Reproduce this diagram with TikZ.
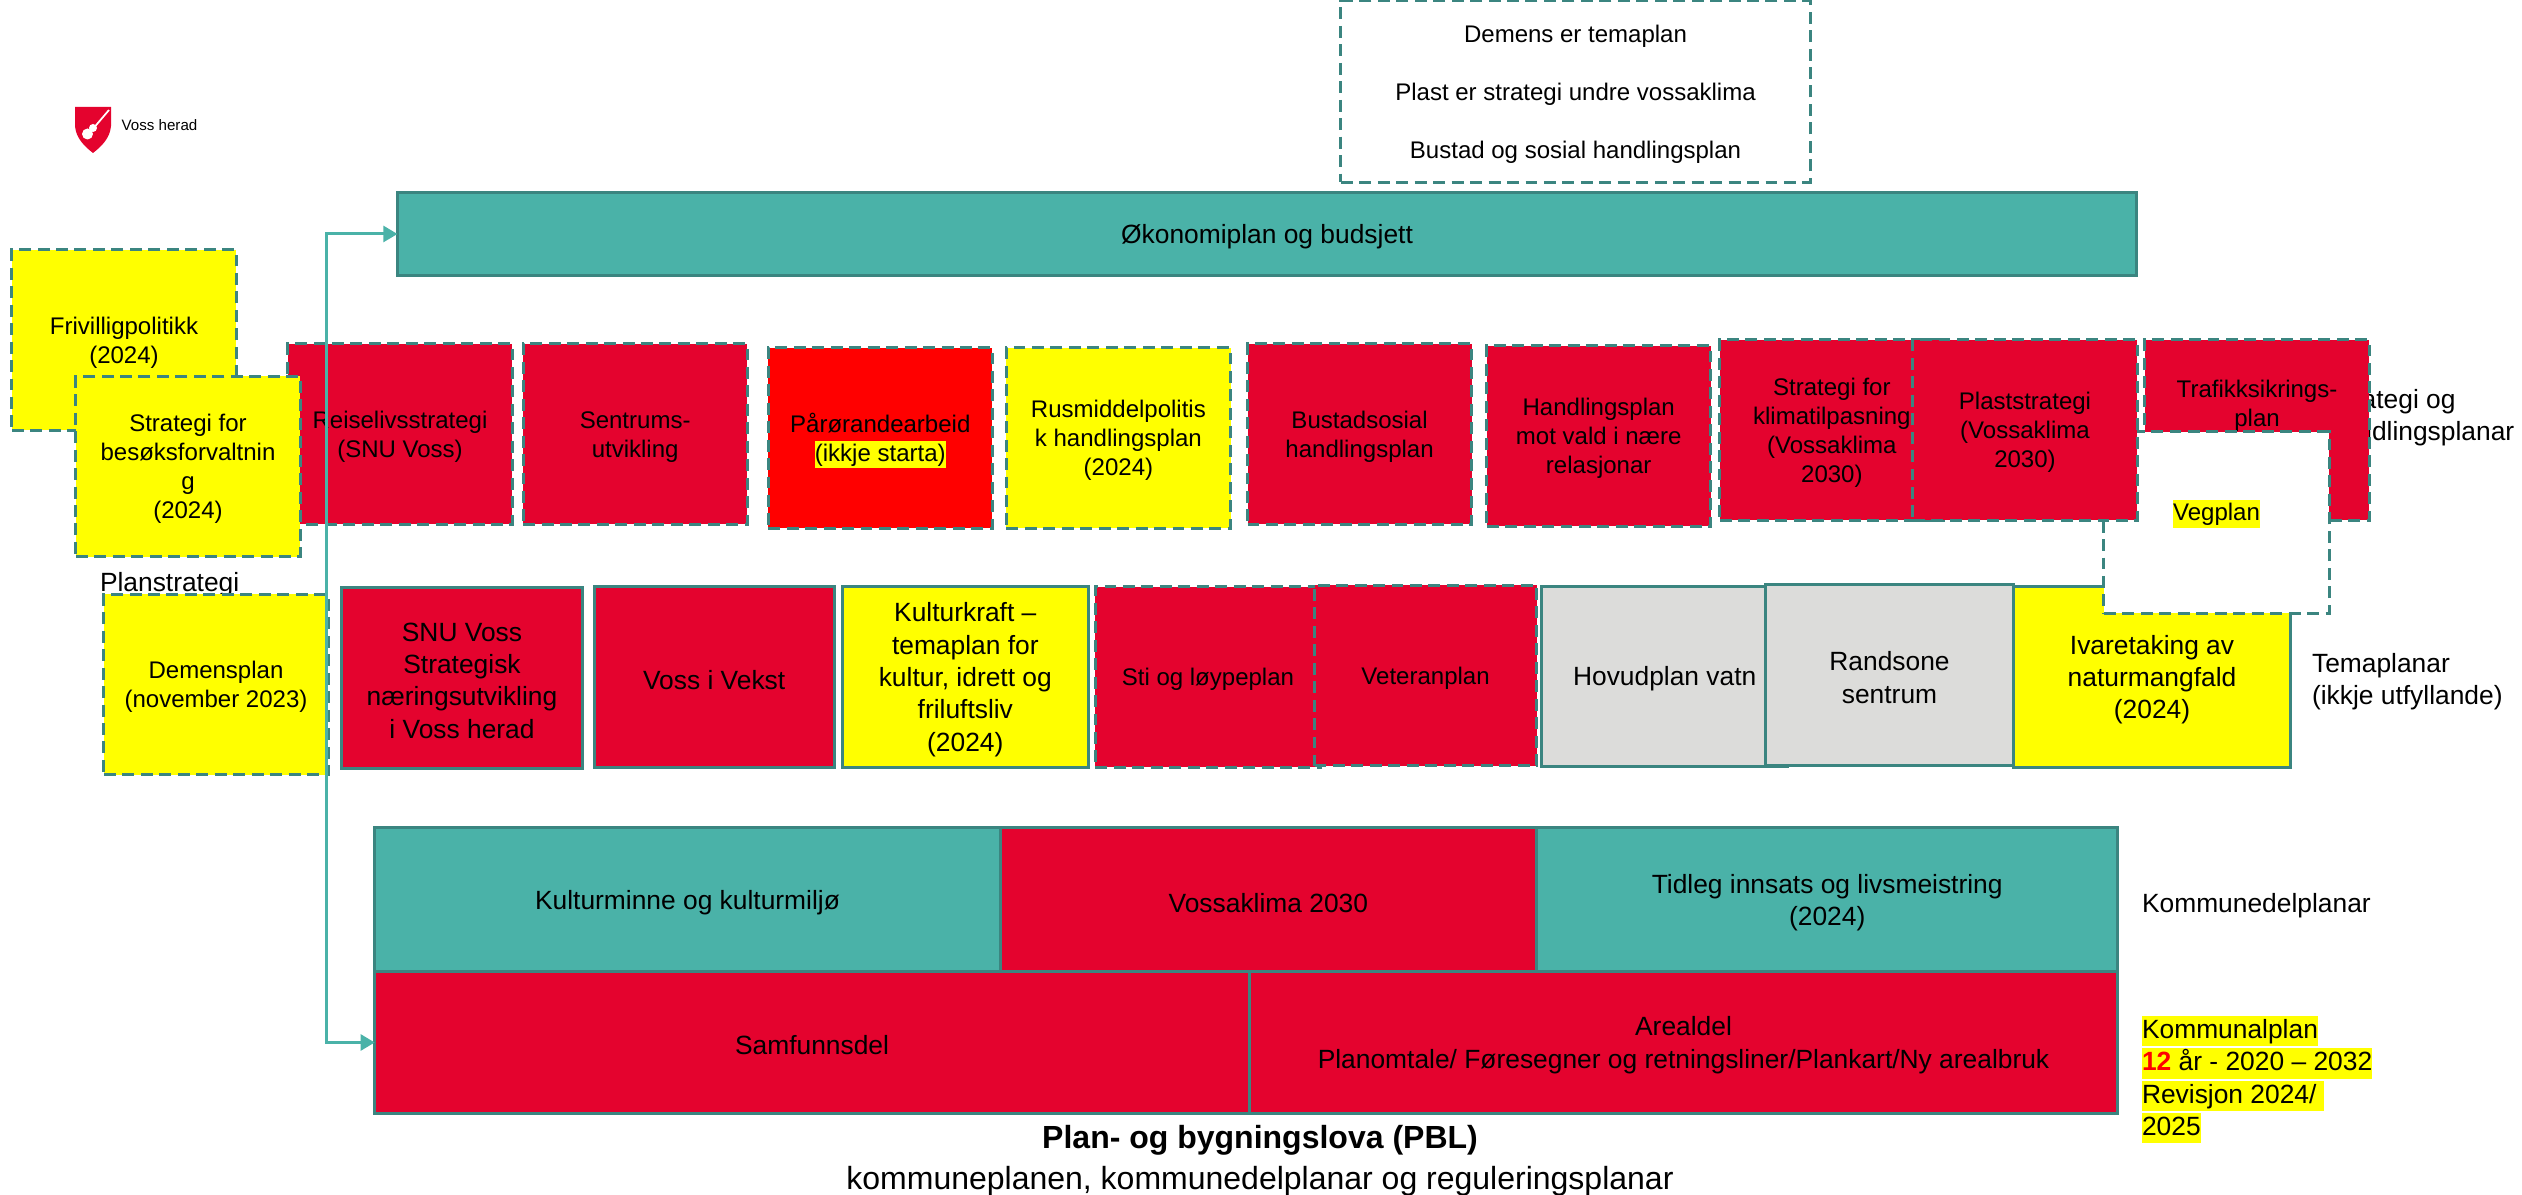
\documentclass[tikz,border=0pt]{standalone}
\usepackage{fontspec}
\setmainfont{Liberation Sans}
\usetikzlibrary{arrows.meta,positioning}

\definecolor{vossred}{HTML}{E4032E}
\definecolor{vossteal}{HTML}{4AB2A8}
\definecolor{edgeteal}{HTML}{3B8580}
\definecolor{planegrey}{HTML}{DCDCDA}
\definecolor{planyellow}{HTML}{FFFF00}
\definecolor{planred}{HTML}{FF0000}

\newcommand{\smalltxt}{\fontsize{6.83}{8.25}\selectfont}
\newcommand{\mediumtxt}{\fontsize{7.5}{9.2}\selectfont}
\newcommand{\largetxt}{\fontsize{9.1}{11}\selectfont}
\newcommand{\markyellow}[1]{{\setlength{\fboxsep}{0pt}\colorbox{planyellow}{\vrule height 0.85em depth 0.3em width 0pt #1}}}

\begin{document}
\begin{tikzpicture}[
    x=0.01cm, y=-0.01cm,
    plan/.style={rectangle, draw=edgeteal, line width=0.85pt, outer sep=0pt, inner sep=0pt, align=center, font=\mediumtxt, minimum width=2.24cm, minimum height=1.8cm, execute at begin node={\vbox\bgroup\vskip 1.5pt\hbox\bgroup}, execute at end node={\egroup\egroup}},
    dashplan/.style={plan, dash pattern=on 3.4pt off 1.85pt, font=\smalltxt},
    label/.style={inner sep=0pt, outer sep=0pt, align=left, font=\mediumtxt, anchor=west},
    link/.style={draw=vossteal, line width=0.85pt, {Triangle[width=4.5pt,length=4pt]}-{Triangle[width=4.5pt,length=4pt]}}
]
\useasboundingbox (0,0) rectangle (2522,1195);

% Logo
\fill[vossred] (75,107) -- (111,107) -- (111,126) .. controls (110,138) and (102,146) .. (93,153) .. controls (84,146) and (76,138) .. (75,126) -- cycle;
\fill[white] (87.5,134) circle (5.5);
\fill[white] (93,128) circle (4);
\draw[white, line width=0.5pt] (92,130) -- (109,110);
\node[inner sep=0pt, anchor=west, font=\fontsize{4.3}{5}\selectfont] (logotext) at (121,125) {Voss herad};

% Side labels lying behind the boxes
\node[label] (planstrategi) at (100,585) {Planstrategi};
\node[label] (handlingslabel) at (2328,418) {Strategi og\\handlingsplanar};

% Top of the page
\node[dashplan, fill=white, minimum width=4.69cm, minimum height=1.81cm] (notes) at (1575.5,91.5) {Demens er temaplan\\~\\Plast er strategi undre vossaklima\\~\\Bustad og sosial handlingsplan};
\node[plan, fill=vossteal, minimum width=17.38cm, minimum height=0.82cm] (oko) at (1267,234) {Økonomiplan og budsjett};

% Strategies and action plans
\node[dashplan, fill=planyellow] (frivillig) at (124,340) {Frivilligpolitikk\\(2024)};
\node[dashplan, fill=vossred] (reise) at (400,434) {Reiselivsstrategi\\(SNU Voss)};
\node[dashplan, fill=planyellow] (besok) at (188,466.5) {Strategi for\\besøksforvaltnin\\g\\(2024)};
\node[dashplan, fill=vossred, right=0.11cm of reise] (sentrum) {Sentrums-\\utvikling};
\node[dashplan, fill=planred, right=0.21cm of sentrum, yshift=-0.04cm] (parorande) {Pårørandearbeid\\\markyellow{(ikkje starta)}};
\node[dashplan, fill=planyellow, right=0.14cm of parorande] (rusmiddel) {Rusmiddelpolitis\\k handlingsplan\\(2024)};
\node[dashplan, fill=vossred, right=0.17cm of rusmiddel, yshift=0.04cm] (bustad) {Bustadsosial\\handlingsplan};
\node[dashplan, fill=vossred, right=0.15cm of bustad, yshift=-0.02cm] (vald) {Handlingsplan\\mot vald i nære\\relasjonar};
\node[dashplan, fill=vossred] (trafikk) at (2257,430) {Trafikksikrings-\\plan\\~\\~};

% Theme plans
\node[dashplan, fill=planyellow] (demens) at (216,684.5) {Demensplan\\(november 2023)};
\node[plan, fill=vossred, minimum width=2.4cm] (snu) at (462,678) {SNU Voss\\Strategisk\\næringsutvikling\\i Voss herad};
\node[plan, fill=vossred, minimum width=2.4cm, right=0.12cm of snu, yshift=0.01cm] (vekst) {Voss i Vekst};
\node[plan, fill=planyellow, minimum width=2.46cm, right=0.08cm of vekst] (kulturkraft) {Kulturkraft –\\temaplan for\\kultur, idrett og\\friluftsliv\\(2024)};
\node[dashplan, fill=vossred, minimum width=2.25cm, right=0.07cm of kulturkraft] (sti) {Sti og løypeplan};
\node[dashplan, fill=vossred, minimum width=2.22cm, right=-0.06cm of sti, yshift=0.015cm] (veteran) {Veteranplan};
\node[plan, fill=planegrey, minimum width=2.46cm, right=0.05cm of veteran, yshift=-0.01cm] (hovudplan) {Hovudplan vatn};
\node[plan, fill=planegrey, minimum width=2.47cm] (randsone) at (1889.5,675) {Randsone\\sentrum};
\node[plan, fill=planyellow, minimum width=2.76cm] (natur) at (2152,677) {Ivaretaking av\\naturmangfald\\(2024)};
\node[dashplan, fill=white, minimum width=2.25cm, minimum height=1.81cm] (vegplan) at (2216.5,522.5) {\markyellow{Vegplan}\\~};

% These two sit over the road plan box
\node[dashplan, fill=vossred, right=0.09cm of vald, yshift=0.06cm] (klima) {Strategi for\\klimatilpasning\\(Vossaklima\\2030)};
\node[dashplan, fill=vossred, right=-0.31cm of klima] (plast) {Plaststrategi\\(Vossaklima\\2030)};

% Municipal sub-plans and municipal plan
\node[plan, fill=vossteal, minimum width=6.25cm, minimum height=1.44cm] (kulturminne) at (687.5,900) {Kulturminne og kulturmiljø};
\node[plan, fill=vossred, minimum width=5.36cm, minimum height=1.44cm, right=0cm of kulturminne] (vossaklima) {Vossaklima 2030};
\node[plan, fill=vossteal, minimum width=5.81cm, minimum height=1.44cm, right=0cm of vossaklima] (tidleg) {Tidleg innsats og livsmeistring\\(2024)};
\node[plan, fill=vossred, minimum width=8.74cm, minimum height=1.41cm] (samfunn) at (812,1042.5) {Samfunnsdel};
\node[plan, fill=vossred, minimum width=8.68cm, minimum height=1.41cm, right=0cm of samfunn] (areal) {Arealdel\\Planomtale/ Føresegner og retningsliner/Plankart/Ny arealbruk};

% Labels on the right
\node[label] (temalabel) at (2312,682) {Temaplanar\\(ikkje utfyllande)};
\node[label] (delplanlabel) at (2142,906) {Kommunedelplanar};
\node[label, anchor=north west] (kommunalplan) at (2142,1016) {\markyellow{Kommunalplan}\\\markyellow{{\color{red}\textbf{12}} år - 2020 – 2032}\\\markyellow{Revisjon 2024/~}\\\markyellow{2025}};

% Title
\node[inner sep=0pt, font=\largetxt\bfseries] (pbl) at (1260,1140) {Plan- og bygningslova (PBL)};
\node[inner sep=0pt, font=\largetxt, below=0.1cm of pbl] (kommuneplanen) {kommuneplanen, kommunedelplanar og reguleringsplanar};

% Connection
\coordinate (spine) at (326.5,640);
\draw[link] (oko.west) -| (spine) |- (samfunn.west);

\end{tikzpicture}
\end{document}
